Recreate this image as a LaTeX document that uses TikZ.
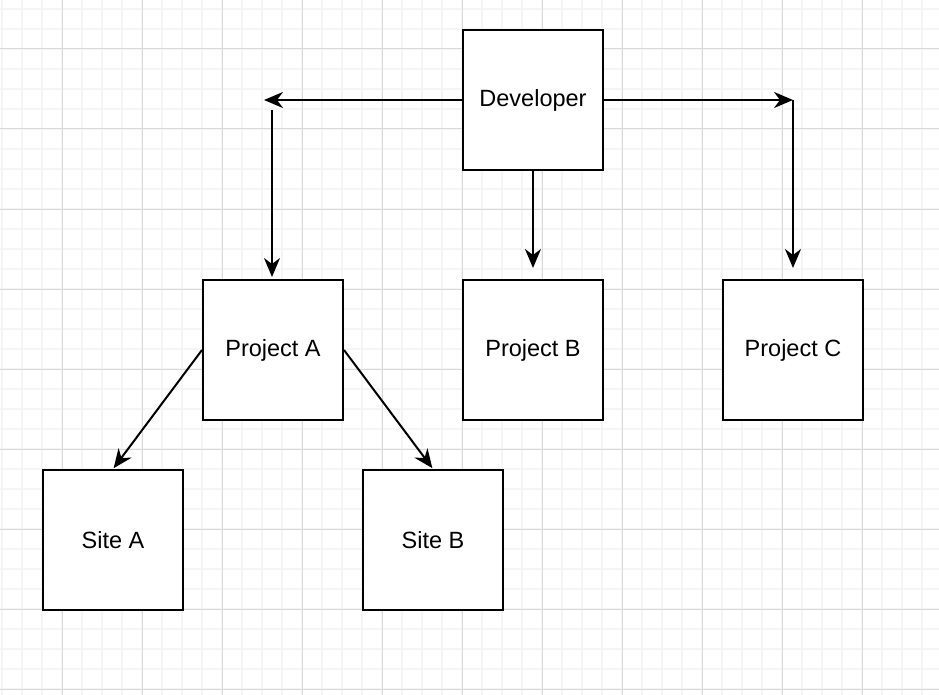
\documentclass[tikz,border=0pt]{standalone}
\usepackage{fontspec}
\setmainfont{Liberation Sans}
\usetikzlibrary{arrows.meta}
\begin{document}
\begin{tikzpicture}[x=1pt,y=-1pt,
  box/.style={draw=black,line width=2pt,fill=white,minimum width=140pt,minimum height=140pt,inner sep=0pt,font=\fontsize{23.5}{28}\selectfont},
  conn/.style={line width=2pt,-{Stealth[length=19pt,width=16pt,inset=6pt]}}]
\useasboundingbox (0,0) rectangle (939,695);
\fill[white] (0,0) rectangle (939,695);
% minor grid
\foreach \x in {2,22,...,939} \draw[line width=1.5pt,color=black!4] (\x,0) -- (\x,695);
\foreach \y in {9,29,...,695} \draw[line width=1.5pt,color=black!4] (0,\y) -- (939,\y);
% major grid
\foreach \x in {62,142,...,939} \draw[line width=1pt,color=black!15] (\x,0) -- (\x,695);
\foreach \y in {49,129,...,695} \draw[line width=1pt,color=black!15] (0,\y) -- (939,\y);
% nodes
\node[box] (dev) at (533,100) {\raisebox{-2.5pt}{Developer}};
\node[box] (pa) at (273,350) {\raisebox{-2.5pt}{Project A}};
\node[box] (pb) at (533,350) {\raisebox{-2.5pt}{Project B}};
\node[box] (pc) at (793,350) {\raisebox{-2.5pt}{Project C}};
\node[box] (sa) at (113,540) {\raisebox{-2.5pt}{Site A}};
\node[box] (sb) at (433,540) {\raisebox{-2.5pt}{Site B}};
\coordinate (cl) at (264,100);
\coordinate (cl2) at (272,110);
\coordinate (cr) at (793,100);
% connectors
\draw[conn] (dev.west) -- (cl);
\draw[conn,shorten >=2pt] (cl2) -- (cl2 |- pa.north);
\draw[conn,shorten >=11pt] (dev.south) -- (pb.north);
\draw[conn] (dev.east) -- (cr);
\draw[conn,shorten >=11pt] (cr) -- (pc.north);
\draw[conn,shorten >=1pt] (pa.west) -- (sa.north);
\draw[conn,shorten >=1pt] (pa.east) -- (sb.north);
\end{tikzpicture}
\end{document}
